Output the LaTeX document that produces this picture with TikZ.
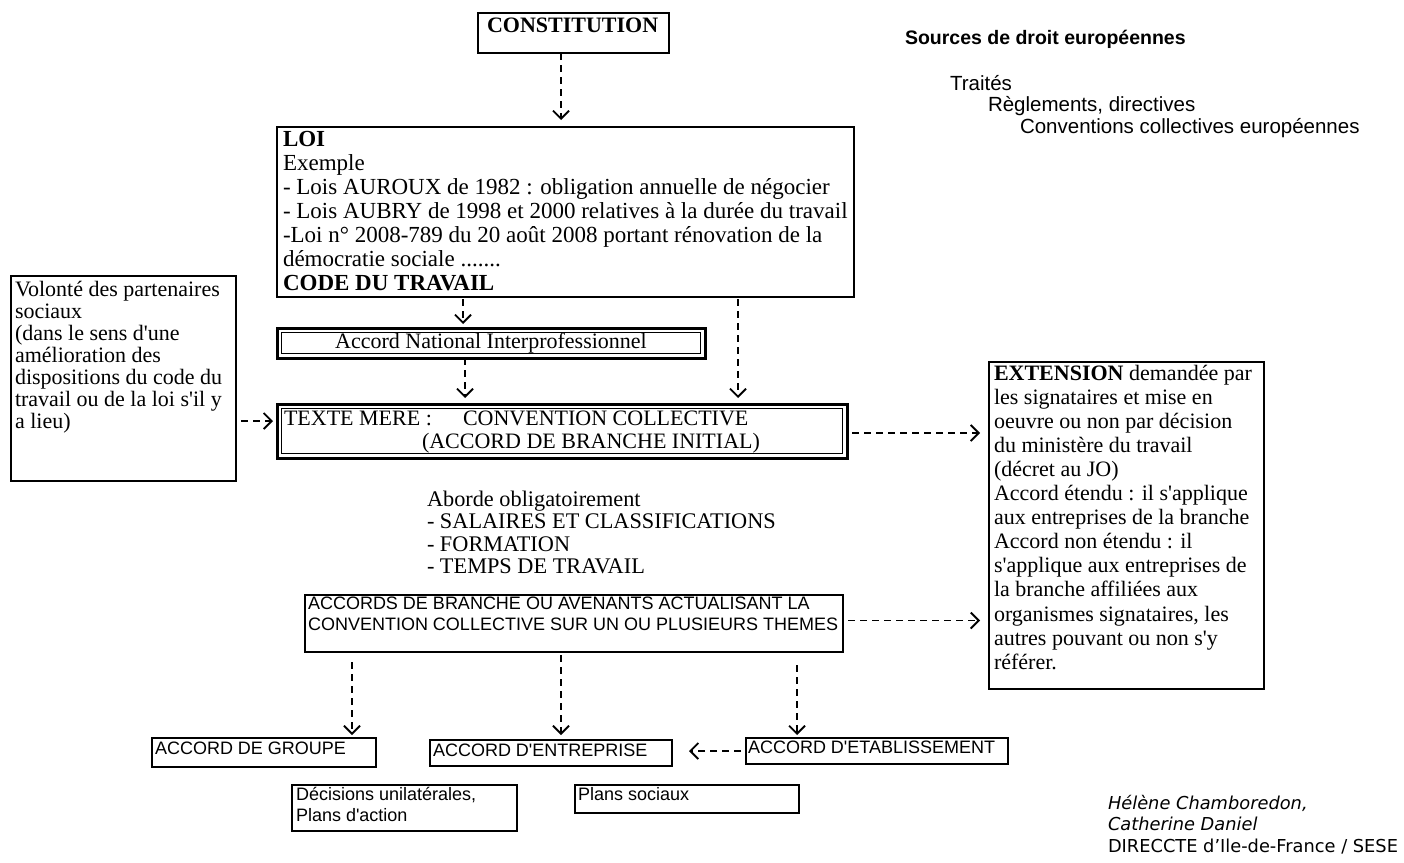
\documentclass[tikz,border=0pt]{standalone}
\usepackage{fontspec}
\setmainfont{Liberation Serif}[Ligatures=TeXOff]
\setsansfont{Liberation Sans}[Ligatures=TeXOff]
\newfontfamily\verd{DejaVu Sans}
\usetikzlibrary{arrows.meta}
\newcommand\myfs[2]{\fontsize{#1}{#2}\selectfont}
\tikzset{
  box/.style={draw, line width=1.4pt, anchor=north west, inner sep=0pt, outer sep=0pt},
  dblbox/.style={draw, line width=3pt, anchor=north west, inner sep=0pt, outer sep=0pt},
  txt/.style={anchor=base west, inner sep=0pt, outer sep=0pt},
  arr/.style={dash pattern=on 7pt off 5pt, line width=1.8pt,
    -{Straight Barb[length=8pt,width=16pt,line width=1.8pt]}}
}
\begin{document}
\begin{tikzpicture}[x=1pt,y=-1pt]
\useasboundingbox (0,0) rectangle (1404,862);
% boxes
\node[box, minimum width=191pt, minimum height=40pt] (cons) at (478,13) {};
\node[box, minimum width=577pt, minimum height=170pt] (loi) at (277,127) {};
\node[dblbox, minimum width=428pt, minimum height=30pt] (ani) at (277,328) {};
\node[dblbox, minimum width=570pt, minimum height=54pt] (tm) at (277,404) {};
\node[box, minimum width=225pt, minimum height=205pt] (vol) at (11,276) {};
\node[box, minimum width=275pt, minimum height=327pt] (ext) at (989,362) {};
\node[box, minimum width=538pt, minimum height=57pt] (acc) at (305,595) {};
\node[box, minimum width=224pt, minimum height=29pt] (grp) at (152,738) {};
\node[box, minimum width=242pt, minimum height=26pt] (ent) at (430,740) {};
\node[box, minimum width=262pt, minimum height=26pt] (etab) at (746,738) {};
\node[box, minimum width=225pt, minimum height=46pt] (dec) at (292,785) {};
\node[box, minimum width=224pt, minimum height=28pt] (plans) at (575,785) {};
% inner lines of double boxes
\draw[line width=1pt] ([shift={(4.5pt,-4.5pt)}]ani.north west) rectangle ([shift={(-4.5pt,4.5pt)}]ani.south east);
\draw[line width=1pt] ([shift={(4.5pt,-4.5pt)}]tm.north west) rectangle ([shift={(-4.5pt,4.5pt)}]tm.south east);
% texts
\node[txt] (cons-t) at (487,32) {\myfs{22}{24}\bfseries CONSTITUTION};
\node[txt] (loi-t) at (283,146) {\parbox[t]{600pt}{\myfs{23}{24}%
\textbf{LOI}\\
Exemple\\
- Lois AUROUX de 1982 : obligation annuelle de négocier\\
- Lois AUBRY de 1998 et 2000 relatives à la durée du travail\\
-Loi n° 2008-789 du 20 août 2008 portant rénovation de la\\
démocratie sociale .......\\
\textbf{CODE DU TRAVAIL}}};
\node[anchor=base, inner sep=0pt] (ani-t) at (491,348) {\myfs{22}{24}Accord National Interprofessionnel};
\node[txt] (tm-t) at (284,425) {\parbox[t]{600pt}{\myfs{22}{23}%
\makebox[179pt][l]{TEXTE MERE :}CONVENTION COLLECTIVE\\
\hspace*{138pt}(ACCORD DE BRANCHE INITIAL)}};
\node[txt] (vol-t) at (15,296) {\parbox[t]{300pt}{\myfs{22}{22}%
Volonté des partenaires\\
sociaux\\
(dans le sens d'une\\
amélioration des\\
dispositions du code du\\
travail ou de la loi s'il y\\
a lieu)}};
\node[txt] (ext-t) at (994,380) {\parbox[t]{400pt}{\myfs{22}{24.1}%
\textbf{EXTENSION} demandée par\\
les signataires et mise en\\
oeuvre ou non par décision\\
du ministère du travail\\
(décret au JO)\\
Accord étendu : il s'applique\\
aux entreprises de la branche\\
Accord non étendu : il\\
s'applique aux entreprises de\\
la branche affiliées aux\\
organismes signataires, les\\
autres pouvant ou non s'y\\
référer.}};
\node[txt] (ab-t) at (427,506) {\parbox[t]{500pt}{\myfs{22.3}{22.5}%
Aborde obligatoirement\\
- SALAIRES ET CLASSIFICATIONS\\
- FORMATION\\
- TEMPS DE TRAVAIL}};
\node[txt] (acc-t) at (308,609) {\parbox[t]{600pt}{\sffamily\myfs{18}{21}%
ACCORDS DE BRANCHE OU AVENANTS ACTUALISANT LA\\
CONVENTION COLLECTIVE SUR UN OU PLUSIEURS THEMES}};
\node[txt] (grp-t) at (155,754) {\sffamily\myfs{18}{21}ACCORD DE GROUPE};
\node[txt] (ent-t) at (433,756) {\sffamily\myfs{18}{21}ACCORD D'ENTREPRISE};
\node[txt] (etab-t) at (748,753) {\sffamily\myfs{18}{21}ACCORD D'ETABLISSEMENT};
\node[txt] (dec-t) at (296,800) {\parbox[t]{300pt}{\sffamily\myfs{18}{21}%
Décisions unilatérales,\\
Plans d'action}};
\node[txt] (plans-t) at (578,800) {\sffamily\myfs{18}{21}Plans sociaux};
% European sources
\node[txt] (src-t) at (905,44) {\sffamily\bfseries\myfs{19.5}{22}Sources de droit européennes};
\node[txt] (trait-t) at (950,90) {\sffamily\myfs{20.5}{22}Traités};
\node[txt] (regl-t) at (988,111) {\sffamily\myfs{20.5}{22}Règlements, directives};
\node[txt] (conv-t) at (1020,133) {\sffamily\myfs{20.5}{22}Conventions collectives européennes};
% authors
\node[txt] (auth-t) at (1108,809) {\parbox[t]{400pt}{\verd\myfs{17.8}{21.5}%
\textit{Hélène Chamboredon,}\\
\textit{Catherine Daniel}\\
DIRECCTE d’Ile-de-France / SESE}};
% connectors
\draw[arr, shorten >=7pt] ([xshift=-12.5pt]cons.south) -- ([xshift=-12.5pt]cons.south |- loi.north);
\draw[arr, shorten <=2pt, shorten >=4pt] ([xshift=186pt]loi.south west) -- ([xshift=186pt]loi.south west |- ani.north);
\draw[arr, shorten <=2pt, shorten >=6pt] ([xshift=461pt]loi.south west) -- ([xshift=461pt]loi.south west |- tm.north);
\draw[arr, shorten >=6pt] ([xshift=188pt]ani.south west) -- ([xshift=188pt]ani.south west |- tm.north);
\draw[arr, shorten <=5pt, shorten >=4pt] ([yshift=10pt]tm.west -| vol.east) -- ([yshift=10pt]tm.west);
\draw[arr, shorten <=5pt, shorten >=9pt] ([yshift=-2pt]tm.east) -- ([yshift=-2pt]tm.east -| ext.west);
\draw[arr, shorten <=5pt, shorten >=9pt] ([yshift=3pt]acc.east) -- ([yshift=3pt]acc.east -| ext.west);
\draw[arr, shorten <=10pt, shorten >=3pt] ([xshift=47pt]acc.south west) -- ([xshift=47pt]acc.south west |- grp.north);
\draw[arr, shorten <=3pt, shorten >=5pt] ([xshift=256pt]acc.south west) -- ([xshift=256pt]acc.south west |- ent.north);
\draw[arr, shorten <=13pt, shorten >=3pt] ([xshift=492pt]acc.south west) -- ([xshift=492pt]acc.south west |- etab.north);
\draw[arr, shorten <=5pt, shorten >=17pt] (etab.west) -- (etab.west -| ent.east);
\end{tikzpicture}
\end{document}
